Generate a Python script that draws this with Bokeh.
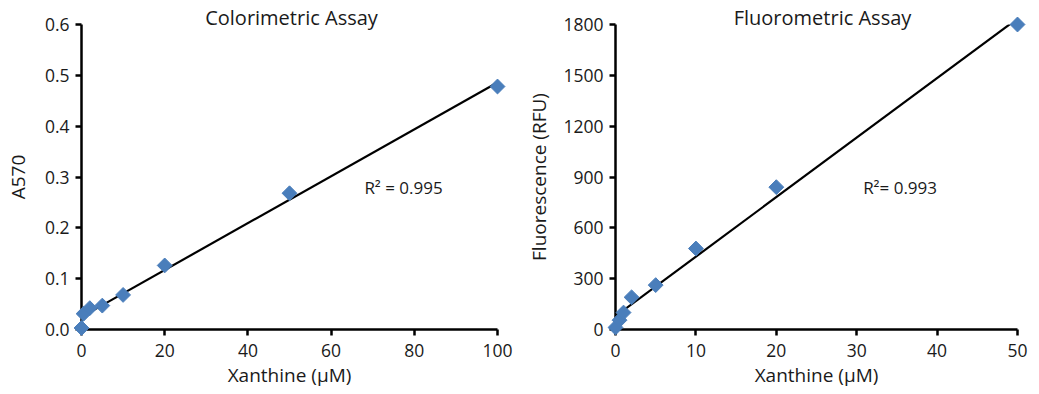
import numpy as np
from bokeh.plotting import figure
from bokeh.layouts import row
from bokeh.models import Label, FixedTicker, Range1d, CustomJSTickFormatter
from bokeh.core.properties import value
from bokeh.embed import file_html
from bokeh.resources import INLINE

# ---- data ----
color_x = [0, 0.5, 2, 5, 10, 20, 50, 100]
color_y = [0.003, 0.031, 0.042, 0.047, 0.068, 0.126, 0.268, 0.478]
color_r2 = "R\u00b2 = 0.995"
color_xticks = [0, 20, 40, 60, 80, 100]
color_yticks = [0.0, 0.1, 0.2, 0.3, 0.4, 0.5, 0.6]

fluor_x = [0, 0.5, 1, 2, 5, 10, 20, 50]
fluor_y = [12, 55, 100, 190, 262, 478, 840, 1800]
fluor_r2 = "R\u00b2= 0.993"
fluor_xticks = [0, 10, 20, 30, 40, 50]
fluor_yticks = [0, 300, 600, 900, 1200, 1500, 1800]

FONT = "Open Sans"
MARK = "#4a7ebb"
TXT = "#1a1a1a"


def make(xs, ys, xticks, yticks, title, xlabel, ylabel, r2, r2pos, width, ml, mr, mb,
         ystand, tx_off, yfmt):
    p = figure(width=width, height=394, output_backend="svg", toolbar_location=None,
               x_range=Range1d(xticks[0], xticks[-1]), y_range=Range1d(yticks[0], yticks[-1]),
               min_border_left=ml, min_border_right=mr, min_border_top=24, min_border_bottom=mb)
    p.outline_line_color = None
    p.grid.visible = False
    p.background_fill_color = "white"
    p.border_fill_color = "white"
    for ax, lab, tks in ((p.xaxis[0], xlabel, xticks), (p.yaxis[0], ylabel, yticks)):
        ax.ticker = FixedTicker(ticks=tks)
        ax.axis_label = lab
        ax.axis_label_text_font = FONT
        ax.axis_label_text_font_size = "19px"
        ax.axis_label_text_font_style = "normal"
        ax.axis_label_text_color = TXT
        ax.major_label_text_font = FONT
        ax.major_label_text_font_size = "17.5px"
        ax.major_label_text_color = TXT
        ax.axis_line_width = 2.5
        ax.axis_line_color = "black"
        ax.major_tick_line_width = 2.5
        ax.major_tick_line_color = "black"
        ax.major_tick_in = 0
        ax.major_tick_out = 6
        ax.minor_tick_line_color = None
    p.xaxis.major_label_standoff = 8
    p.yaxis.major_label_standoff = 6
    p.xaxis.axis_label_standoff = 2
    p.yaxis.axis_label_standoff = ystand
    p.yaxis.formatter = CustomJSTickFormatter(code=yfmt)

    slope, inter = np.polyfit(np.array(xs, float), np.array(ys, float), 1)
    lx = [min(xs), max(xs)]
    ly = [inter + slope * v for v in lx]
    p.line(lx, ly, line_color="black", line_width=2.2)
    p.scatter(xs, ys, marker="square", angle=np.pi / 4, size=10.5,
              fill_color=MARK, line_color=MARK, level="overlay")

    p.text(x=[(xticks[0] + xticks[-1]) / 2], y=[yticks[-1]], text=[title],
           x_offset=tx_off, y_offset=-7,
           text_align="center", text_baseline="middle", text_font=value(FONT),
           text_font_size="20px", text_color=TXT, level="overlay")
    p.add_layout(Label(x=r2pos[0], y=r2pos[1], text=r2, text_align="left",
                       text_baseline="middle", text_font=FONT, text_font_size="17px",
                       text_color=TXT))
    return p


p1 = make(color_x, color_y, color_xticks, color_yticks, "Colorimetric Assay",
          "Xanthine (\u00b5M)", "A570", color_r2, (68, 0.28), 520, 81, 23, 65, 11, 2,
          "return tick.toFixed(1);")
p2 = make(fluor_x, fluor_y, fluor_xticks, fluor_yticks, "Fluorometric Assay",
          "Xanthine (\u00b5M)", "Fluorescence (RFU)", fluor_r2, (30.8, 840), 519, 95, 22, 64, 8, 6,
          "return tick.toFixed(0);")

layout = row(p1, p2)
open("out.html", "w").write(file_html(layout, INLINE))
